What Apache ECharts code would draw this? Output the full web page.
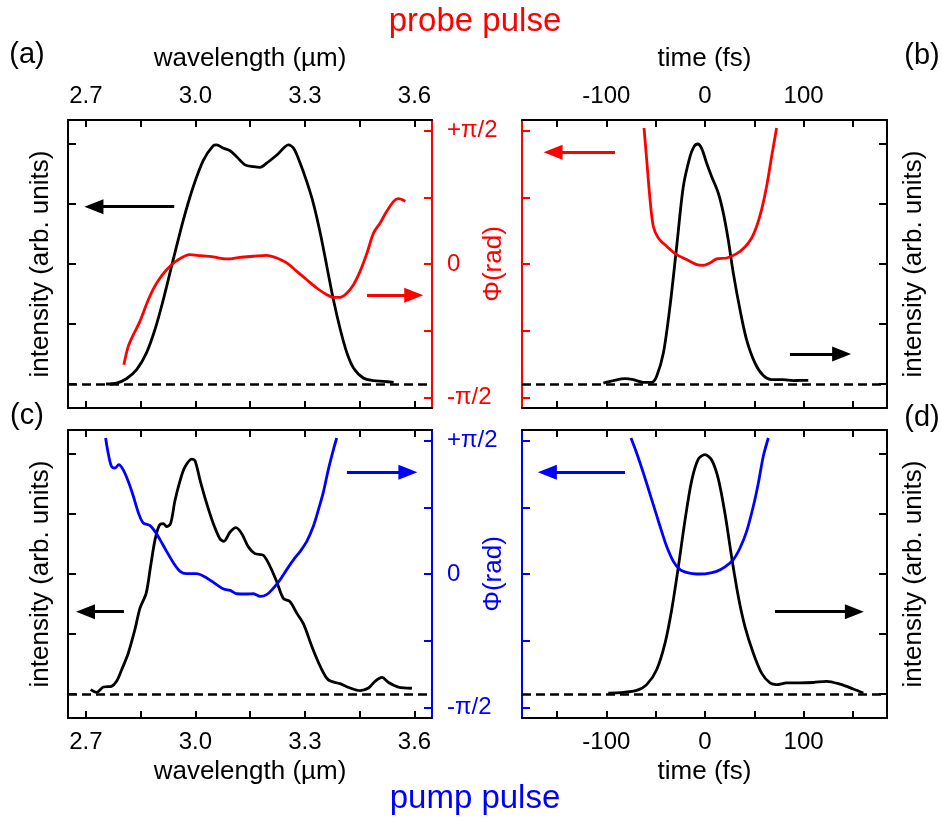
<!DOCTYPE html>
<html>
<head>
<meta charset="utf-8">
<script src="https://cdn.jsdelivr.net/npm/echarts@6/dist/echarts.min.js"></script>
<style>
  html, body { margin: 0; padding: 0; background: #fff; }
  #chart { width: 942px; height: 818px; }
</style>
</head>
<body>
<div id="chart"></div>
<script>
// ---- probe pulse: spectrum (a) and temporal profile (b) ----
const probeSpecWl = [2.755,2.784,2.811,2.839,2.866,2.889,2.912,2.939,2.967,2.994,3.022,3.049,3.058,3.077,3.095,3.113,3.136,3.159,3.177,3.195,3.223,3.255,3.269,3.287,3.305,3.323,3.342,3.36,3.378,3.397,3.415,3.433,3.46,3.488,3.515,3.543];
const probeSpecInt = [0,0.004,0.022,0.06,0.13,0.226,0.351,0.517,0.684,0.822,0.933,0.993,0.996,0.982,0.972,0.947,0.913,0.906,0.903,0.92,0.954,0.996,0.982,0.92,0.843,0.753,0.628,0.49,0.351,0.226,0.129,0.067,0.025,0.014,0.011,0.007];
const probeSpecPhWl = [2.804,2.816,2.83,2.848,2.871,2.894,2.921,2.949,2.985,3.013,3.049,3.086,3.122,3.159,3.195,3.223,3.25,3.278,3.305,3.332,3.36,3.378,3.397,3.415,3.433,3.451,3.47,3.488,3.506,3.524,3.543,3.556,3.575];
const probeSpecPh = [-0.755,-0.618,-0.53,-0.43,-0.268,-0.143,-0.043,0.025,0.07,0.063,0.053,0.038,0.05,0.058,0.065,0.045,0.008,-0.055,-0.118,-0.18,-0.23,-0.25,-0.25,-0.218,-0.155,-0.055,0.083,0.233,0.308,0.395,0.47,0.49,0.47];

const probeTimeT = [-103,-92.9,-81.1,-72.6,-62.5,-54,-49,-42.2,-35.5,-28.7,-22,-15.2,-11.1,-7.4,-3.4,1.7,6.8,13.5,18.6,23.6,28.7,35.5,42.2,50.7,59.1,67.6,79.4,89.5,96.3,104.7];
const probeTimeInt = [0.004,0.014,0.022,0.018,0.007,0.007,0.032,0.129,0.323,0.573,0.822,0.947,0.989,1.0,0.982,0.92,0.864,0.795,0.712,0.6,0.462,0.309,0.184,0.087,0.035,0.018,0.018,0.014,0.015,0.015];
const probeTimePhT = [-61.8,-59.1,-55.7,-52.4,-47.3,-38.9,-28.7,-18.6,-8.4,-1.7,5.1,11.8,22,32.1,40.5,47.3,52.4,57.4,62.5,67.6,72.6];
const probeTimePh = [1.02,0.783,0.483,0.283,0.195,0.133,0.07,0.033,-0.005,-0.01,0.008,0.038,0.045,0.078,0.128,0.195,0.283,0.408,0.583,0.808,1.02];

// ---- pump pulse: spectrum (c) and temporal profile (d) ----
const pumpSpecWl = [2.713,2.729,2.748,2.77,2.784,2.798,2.816,2.834,2.848,2.865,2.877,2.889,2.901,2.912,2.921,2.932,2.944,2.958,2.971,2.99,2.999,3.013,3.031,3.049,3.067,3.078,3.095,3.111,3.127,3.145,3.163,3.186,3.205,3.223,3.241,3.259,3.278,3.296,3.319,3.342,3.364,3.396,3.424,3.451,3.474,3.492,3.511,3.529,3.556,3.593];
const pumpSpecInt = [0.018,0.007,0.029,0.032,0.053,0.101,0.17,0.267,0.357,0.419,0.53,0.64,0.703,0.71,0.698,0.71,0.806,0.889,0.945,0.979,0.972,0.889,0.793,0.71,0.647,0.636,0.675,0.693,0.668,0.613,0.585,0.578,0.53,0.467,0.398,0.385,0.336,0.292,0.198,0.115,0.059,0.043,0.025,0.014,0.025,0.053,0.069,0.048,0.029,0.024];
const pumpSpecPhWl = [2.754,2.761,2.77,2.78,2.79,2.802,2.816,2.83,2.844,2.857,2.876,2.889,2.903,2.921,2.94,2.958,2.976,3.003,3.031,3.058,3.077,3.095,3.113,3.141,3.159,3.177,3.195,3.214,3.232,3.25,3.269,3.287,3.305,3.323,3.337,3.351,3.364,3.378,3.387];
const pumpSpecPh = [1.02,0.908,0.808,0.795,0.82,0.783,0.695,0.583,0.458,0.383,0.363,0.32,0.258,0.17,0.083,0.02,0.003,0.003,-0.03,-0.08,-0.113,-0.123,-0.148,-0.15,-0.148,-0.168,-0.155,-0.105,-0.043,0.033,0.108,0.17,0.245,0.358,0.483,0.62,0.783,0.933,1.02];

const pumpTimeT = [-98,-82.8,-69.3,-59.1,-49,-40.5,-33.8,-27,-20.3,-13.5,-6.8,0,6.8,13.5,20.3,27,33.8,40.5,49,57.4,65.9,72.6,82.8,96.3,109.8,123.3,136.8,150.3,160.5];
const pumpTimeInt = [0.004,0.007,0.015,0.039,0.101,0.212,0.35,0.53,0.723,0.889,0.979,0.997,0.975,0.896,0.751,0.571,0.405,0.281,0.17,0.087,0.046,0.039,0.046,0.046,0.048,0.053,0.041,0.021,0.004];
const pumpTimePhT = [-75,-69.3,-62.5,-54,-45.6,-38.9,-32.1,-25.3,-16.9,-8.4,1.7,11.8,20.3,28.7,35.5,42.2,49,54.1,59.1,64.2];
const pumpTimePh = [1.02,0.908,0.758,0.558,0.358,0.208,0.095,0.033,0.008,0,0.003,0.02,0.053,0.108,0.195,0.32,0.508,0.683,0.883,1.02];

// ---- axis ticks (phase in units of pi/2) ----
const wlTicks = [2.7,2.85,3.0,3.15,3.3,3.45,3.6];
const wlLabels = [2.7,3.0,3.3,3.6];
const timeTicks = [-150,-100,-50,0,50,100,150];
const timeLabels = [-100,0,100];
const intTicks = [0,0.25,0.5,0.75,1];
const phTicks = [-1,-0.5,0,0.5,1];
const phLabels = [-1,0,1];
const phLabelText = { '-1': '-\u03c0/2', '0': '0', '1': '+\u03c0/2' };

// ---- axis-pointing arrows [x0, y0, x1, y1] ----
const arrowA_int = [2.942,0.739,2.722,0.739];
const arrowA_ph  = [3.47,-0.235,3.598,-0.235];
const arrowB_ph  = [-91.2,0.838,-154,0.838];
const arrowB_int = [86.1,0.125,138.5,0.125];
const arrowC_int = [2.804,0.343,2.699,0.343];
const arrowC_ph  = [3.415,0.763,3.582,0.763];
const arrowD_ph  = [-81.1,0.763,-159.8,0.763];
const arrowD_int = [70.9,0.343,151.4,0.343];

const FONT = 'Liberation Sans, Arial, Helvetica, sans-serif';
const RED = '#ff0000', BLUE = '#0000ff', BLACK = '#000000';
const WL_RANGE = [2.651, 3.648];
const T_RANGE = [-185.5, 184.5];
const INT_RANGE = [-0.1, 1.1];
const PH_RANGE = [-1.08, 1.08];

const zip = (xs, ys) => xs.map((x, i) => [x, ys[i]]);

function xAxis(grid, pos, range, ticks, labels, fmt, name) {
  return {
    type: 'value', gridIndex: grid, position: pos,
    min: range[0], max: range[1],
    axisLine: { show: true, onZero: false, lineStyle: { color: BLACK, width: 2 } },
    axisTick: { show: true, inside: true, length: 7, customValues: ticks, lineStyle: { color: BLACK, width: 2 } },
    axisLabel: labels ? { show: true, customValues: labels, formatter: fmt, color: BLACK, fontSize: 24, fontFamily: FONT, margin: 12 } : { show: false },
    splitLine: { show: false },
    name: name || '', nameLocation: 'middle', nameGap: pos === 'top' ? 48 : 41,
    nameTextStyle: { color: BLACK, fontSize: 26, fontFamily: FONT }
  };
}

function intAxis(grid, pos) {
  return {
    type: 'value', gridIndex: grid, position: pos,
    min: INT_RANGE[0], max: INT_RANGE[1],
    axisLine: { show: true, onZero: false, lineStyle: { color: BLACK, width: 2 } },
    axisTick: { show: true, inside: true, length: 8, customValues: intTicks, lineStyle: { color: BLACK, width: 2 } },
    axisLabel: { show: false },
    splitLine: { show: false },
    name: 'intensity (arb. units)', nameLocation: 'middle', nameGap: 14, nameRotate: 90,
    nameTextStyle: { color: BLACK, fontSize: 26, fontFamily: FONT }
  };
}

function phAxis(grid, pos, color, withLabels, withName) {
  return {
    type: 'value', gridIndex: grid, position: pos,
    min: PH_RANGE[0], max: PH_RANGE[1],
    axisLine: { show: true, onZero: false, lineStyle: { color: color, width: 2 } },
    axisTick: { show: true, inside: true, length: 8, customValues: phTicks, lineStyle: { color: color, width: 2 } },
    axisLabel: withLabels ? {
      show: true, customValues: phLabels, formatter: v => phLabelText[String(Math.round(v))],
      color: color, fontSize: 24, fontFamily: FONT, margin: 15
    } : { show: false },
    splitLine: { show: false },
    name: withName ? '\u03a6(rad)' : '', nameLocation: 'middle', nameGap: 15, nameRotate: 90,
    nameTextStyle: { color: color, fontSize: 26, fontFamily: FONT }
  };
}

const wlFmt = v => v.toFixed(1);
const tFmt = v => String(Math.round(v));

function arrowLine(a) {
  return [
    { coord: [a[0], a[1]] },
    { coord: [a[2], a[3]], symbol: 'triangle', symbolSize: [15, 19] }
  ];
}

function curve(xi, yi, data, color, markData, baseline) {
  const ml = markData.slice();
  if (baseline) ml.push({ yAxis: 0, lineStyle: { color: BLACK, width: 2.6, type: [9, 5] } });
  return {
    type: 'line', xAxisIndex: xi, yAxisIndex: yi, data: data,
    showSymbol: false, symbol: 'none', smooth: 0.3,
    lineStyle: { color: color, width: 2.8 }, itemStyle: { color: color },
    z: 3,
    markLine: {
      silent: true, symbol: ['none', 'none'], label: { show: false },
      lineStyle: { color: color, width: 3, type: 'solid' },
      data: ml, animation: false
    }
  };
}

const option = {
  animation: false,
  backgroundColor: '#ffffff',
  grid: [
    { left: 68, top: 120, width: 364, height: 288 },
    { left: 522, top: 120, width: 365, height: 288 },
    { left: 68, top: 430, width: 364, height: 288 },
    { left: 522, top: 430, width: 365, height: 288 }
  ],
  xAxis: [
    xAxis(0, 'bottom', WL_RANGE, wlTicks, null),
    xAxis(0, 'top', WL_RANGE, wlTicks, wlLabels, wlFmt, 'wavelength (\u00b5m)'),
    xAxis(1, 'bottom', T_RANGE, timeTicks, null),
    xAxis(1, 'top', T_RANGE, timeTicks, timeLabels, tFmt, 'time (fs)'),
    xAxis(2, 'bottom', WL_RANGE, wlTicks, wlLabels, wlFmt, 'wavelength (\u00b5m)'),
    xAxis(2, 'top', WL_RANGE, wlTicks, null),
    xAxis(3, 'bottom', T_RANGE, timeTicks, timeLabels, tFmt, 'time (fs)'),
    xAxis(3, 'top', T_RANGE, timeTicks, null)
  ],
  yAxis: [
    intAxis(0, 'left'),
    phAxis(0, 'right', RED, true, false),
    phAxis(1, 'left', RED, false, true),
    intAxis(1, 'right'),
    intAxis(2, 'left'),
    phAxis(2, 'right', BLUE, true, false),
    phAxis(3, 'left', BLUE, false, true),
    intAxis(3, 'right')
  ],
  series: [
    curve(0, 0, zip(probeSpecWl, probeSpecInt), BLACK, [arrowLine(arrowA_int)], true),
    curve(0, 1, zip(probeSpecPhWl, probeSpecPh), RED, [arrowLine(arrowA_ph)], false),
    curve(2, 3, zip(probeTimeT, probeTimeInt), BLACK, [arrowLine(arrowB_int)], true),
    curve(2, 2, zip(probeTimePhT, probeTimePh), RED, [arrowLine(arrowB_ph)], false),
    curve(4, 4, zip(pumpSpecWl, pumpSpecInt), BLACK, [arrowLine(arrowC_int)], true),
    curve(4, 5, zip(pumpSpecPhWl, pumpSpecPh), BLUE, [arrowLine(arrowC_ph)], false),
    curve(6, 7, zip(pumpTimeT, pumpTimeInt), BLACK, [arrowLine(arrowD_int)], true),
    curve(6, 6, zip(pumpTimePhT, pumpTimePh), BLUE, [arrowLine(arrowD_ph)], false)
  ],
  graphic: [
    { type: 'text', x: 475, y: 22, style: { text: 'probe pulse', fill: RED, font: '33px ' + FONT, textAlign: 'center', textVerticalAlign: 'middle' } },
    { type: 'text', x: 475, y: 799, style: { text: 'pump pulse', fill: BLUE, font: '33px ' + FONT, textAlign: 'center', textVerticalAlign: 'middle' } },
    { type: 'text', x: 27, y: 55, style: { text: '(a)', fill: BLACK, font: '29px ' + FONT, textAlign: 'center', textVerticalAlign: 'middle' } },
    { type: 'text', x: 922, y: 56, style: { text: '(b)', fill: BLACK, font: '29px ' + FONT, textAlign: 'center', textVerticalAlign: 'middle' } },
    { type: 'text', x: 27, y: 416, style: { text: '(c)', fill: BLACK, font: '29px ' + FONT, textAlign: 'center', textVerticalAlign: 'middle' } },
    { type: 'text', x: 922, y: 418, style: { text: '(d)', fill: BLACK, font: '29px ' + FONT, textAlign: 'center', textVerticalAlign: 'middle' } }
  ]
};

const chart = echarts.init(document.getElementById('chart'), null, { renderer: 'canvas' });
chart.setOption(option);
</script>
</body>
</html>
